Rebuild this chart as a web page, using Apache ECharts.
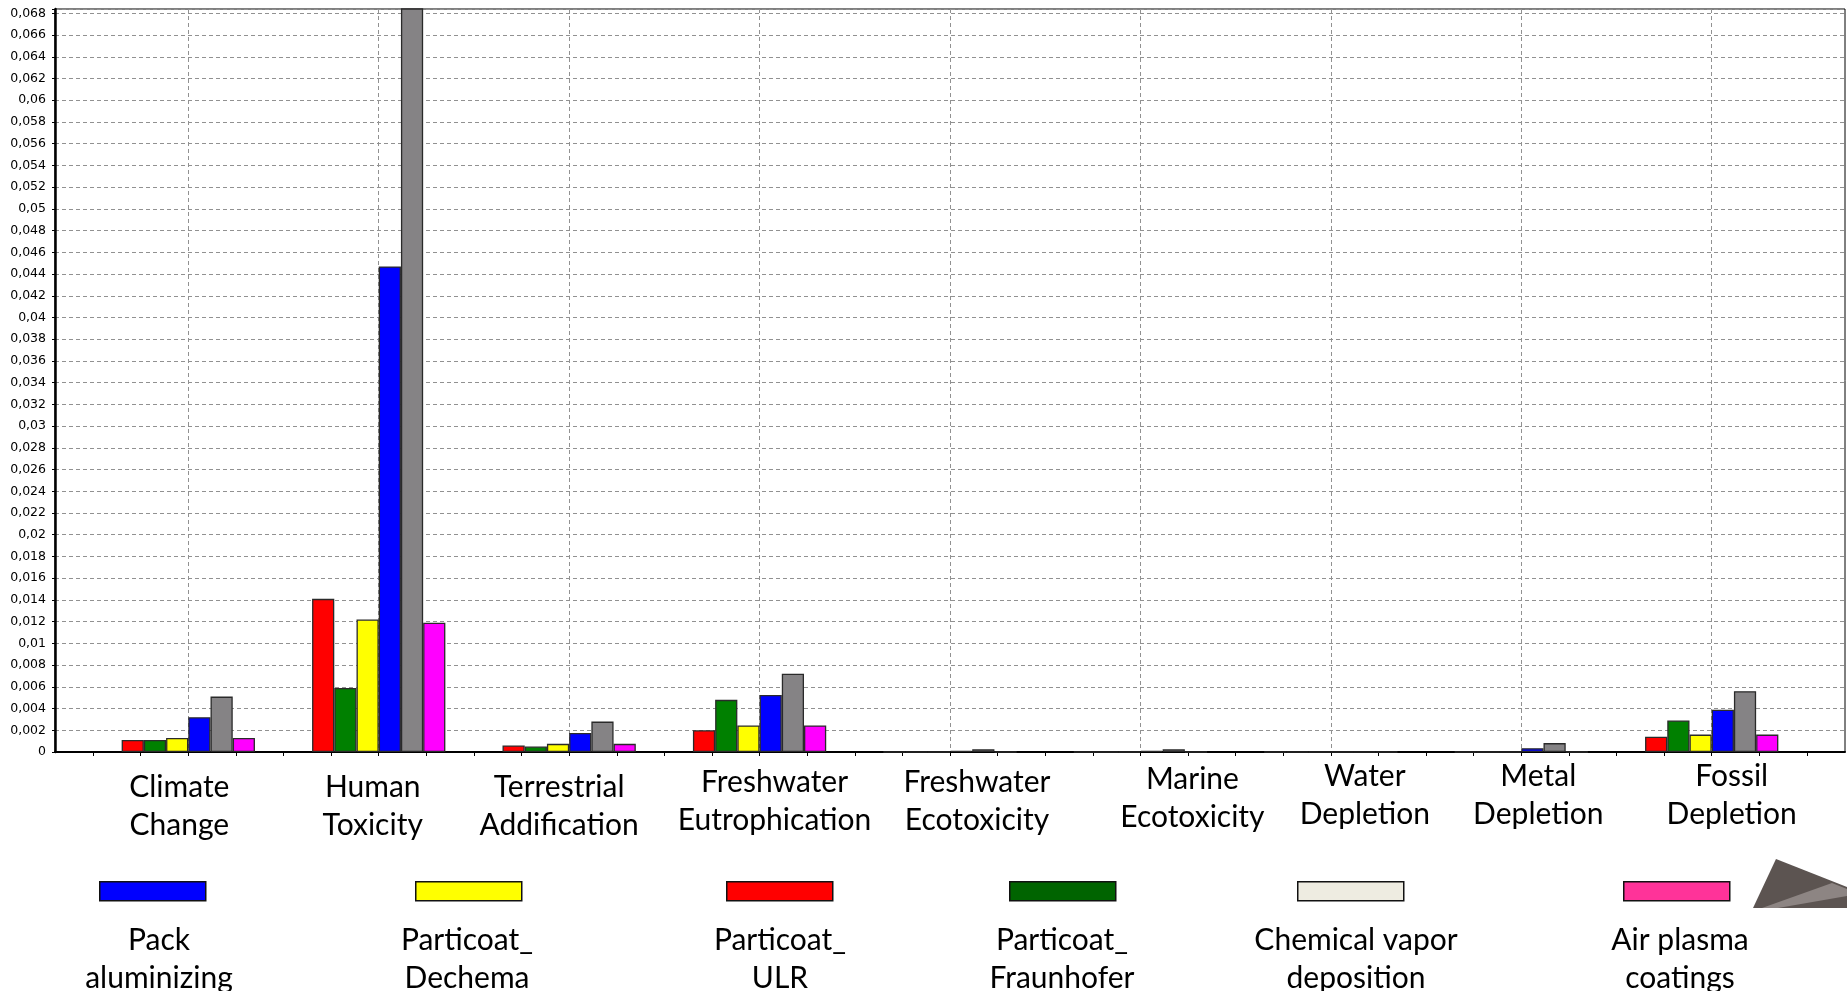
<!DOCTYPE html>
<html><head><meta charset="utf-8">
<script src="https://cdn.jsdelivr.net/npm/echarts@6/dist/echarts.min.js"></script>
<style>html,body{margin:0;padding:0;background:#fff}#c{width:1847px;height:991px}</style>
</head><body><div id="c"></div>
<script>
// ---- data ----
const categories = ['Climate\nChange','Human\nToxicity','Terrestrial\nAddification','Freshwater\nEutrophication','Freshwater\nEcotoxicity','Marine\nEcotoxicity','Water\nDepletion','Metal\nDepletion','Fossil\nDepletion'];
const seriesNames = ['Particoat_ULR','Particoat_Fraunhofer','Particoat_Dechema','Pack aluminizing','Chemical vapor deposition','Air plasma coatings'];
const particoatULR        = [0.0011, 0.0141, 0.0006,  0.0020,  0,       0,       0, 0,       0.0014];
const particoatFraunhofer = [0.0011, 0.0059, 0.0005,  0.0048,  0,       0,       0, 0,       0.0029];
const particoatDechema    = [0.0013, 0.0122, 0.00075, 0.00245, 0,       0,       0, 0,       0.0016];
const packAluminizing     = [0.0032, 0.0447, 0.00175, 0.00525, 0.0001,  0.0001,  0, 0.00035, 0.0039];
const chemicalVapor       = [0.0051, 0.0700, 0.0028,  0.0072,  0.00025, 0.00025, 0, 0.00082, 0.0056];
const airPlasma           = [0.0013, 0.0119, 0.00075, 0.00245, 0,       0,       0, 0,       0.0016];
const legendOrder  = ['Pack aluminizing','Particoat_Dechema','Particoat_ULR','Particoat_Fraunhofer','Chemical vapor deposition','Air plasma coatings'];
const legendLabels = ['Pack\naluminizing','Particoat_\nDechema','Particoat_\nULR','Particoat_\nFraunhofer','Chemical vapor\ndeposition','Air plasma\ncoatings'];

// ---- styles ----
const seriesValues = [particoatULR, particoatFraunhofer, particoatDechema, packAluminizing, chemicalVapor, airPlasma];
const barColors = ['#ff0000','#008000','#ffff00','#0000ff','#858385','#ff00ff'];
const legendColors = ['#0000ff','#ffff00','#ff0000','#006400','#eeece1','#ff3399'];
const legendLeft = [99, 415, 726, 1009, 1297, 1623];
const legendTextX = [159, 467, 780, 1062, 1356, 1680];
const labelShift = [-9, -6, -10, 15, 27, 52, 34, 17, 20];
const labelMargin = [16, 16, 16, 11, 11, 8, 5, 5, 5];
const xMin = -0.7, xMax = 8.7;
const catIdx = categories.map((c, i) => i);
const quarterTicks = [];
for (let q = -2; q <= 34; q++) quarterTicks.push(q / 4);

const FONT = 'Lato, "Open Sans", sans-serif';
const rich = {};
labelShift.forEach((d, i) => {
  rich['r' + i] = {
    fontFamily: FONT, fontSize: 30, lineHeight: 38, color: '#000',
    padding: d >= 0 ? [0, 0, 0, 2 * d] : [0, -2 * d, 0, 0]
  };
});

const fmtY = v => {
  const k = v / 0.002;
  if (Math.abs(k - Math.round(k)) > 1e-6) return '';
  return String(parseFloat(v.toFixed(3))).replace('.', ',');
};

const baseX = {
  type: 'value', min: xMin, max: xMax, position: 'bottom',
  axisLine: { show: false }, axisTick: { show: false },
  axisLabel: { show: false }, splitLine: { show: false }
};

const xAxes = [
  Object.assign({}, baseX, {
    axisLine: { show: true, onZero: false, lineStyle: { color: '#000', width: 2 } },
    axisTick: { show: true, customValues: quarterTicks, length: 4, lineStyle: { color: '#000', width: 1 } }
  }),
  Object.assign({}, baseX, {
    axisTick: { show: false, customValues: catIdx },
    splitLine: { show: true, lineStyle: { color: '#919191', type: [4, 3], width: 1 } }
  })
];
catIdx.forEach(i => {
  xAxes.push(Object.assign({}, baseX, {
    axisLabel: {
      show: true, customValues: [i], margin: labelMargin[i], hideOverlap: false,
      formatter: v => '{r' + i + '|' + categories[i] + '}',
      rich: rich
    }
  }));
});

const chart = echarts.init(document.getElementById('c'), null, { renderer: 'canvas' });
chart.setOption({
  animation: false,
  backgroundColor: '#fff',
  grid: { left: 55, right: 2, top: 9, bottom: 239, show: true, borderColor: '#000', borderWidth: 1, containLabel: false },
  xAxis: xAxes,
  yAxis: {
    type: 'value', min: 0, max: 0.0684, interval: 0.002,
    axisLine: { show: true, onZero: false, lineStyle: { color: '#000', width: 2.5 } },
    axisTick: { show: true, length: 3, lineStyle: { color: '#000' } },
    axisLabel: { margin: 9, fontFamily: '"DejaVu Sans", Verdana, sans-serif', fontSize: 12.5, color: '#000', formatter: fmtY },
    splitLine: { show: true, lineStyle: { color: '#919191', type: [4, 3], width: 1 } }
  },
  legend: legendOrder.map((name, k) => ({
    data: [{ name: name, itemStyle: { color: legendColors[k], borderColor: '#111', borderWidth: 1.5 } }],
    left: legendLeft[k], top: 881, padding: 0, itemGap: 0,
    icon: 'rect', itemWidth: 106, itemHeight: 19,
    selectedMode: false, formatter: () => '', textStyle: { fontSize: 1 }
  })),
  graphic: legendLabels.map((t, k) => ({
    type: 'text', x: legendTextX[k], y: 921, silent: true,
    style: { text: t, fontFamily: FONT, fontSize: 30, lineHeight: 38, fill: '#000', align: 'center', verticalAlign: 'top' }
  })).concat([
    { type: 'polygon', silent: true, shape: { points: [[1776, 859], [1847, 887], [1847, 908], [1753, 908]] }, style: { fill: '#5c5451' } },
    { type: 'polygon', silent: true, shape: { points: [[1762, 908], [1778, 908], [1847, 896], [1847, 889], [1832, 883]] }, style: { fill: '#8d8583' } }
  ]),
  series: seriesValues.map((vals, s) => ({
    name: seriesNames[s], type: 'bar', xAxisIndex: 0, yAxisIndex: 0,
    data: vals.map((v, i) => [i, v]),
    barGap: '0%', barCategoryGap: '30%',
    itemStyle: { color: barColors[s], borderColor: '#2a2a2a', borderWidth: 1.3 },
    emphasis: { disabled: true }
  }))
});
</script>
</body></html>
